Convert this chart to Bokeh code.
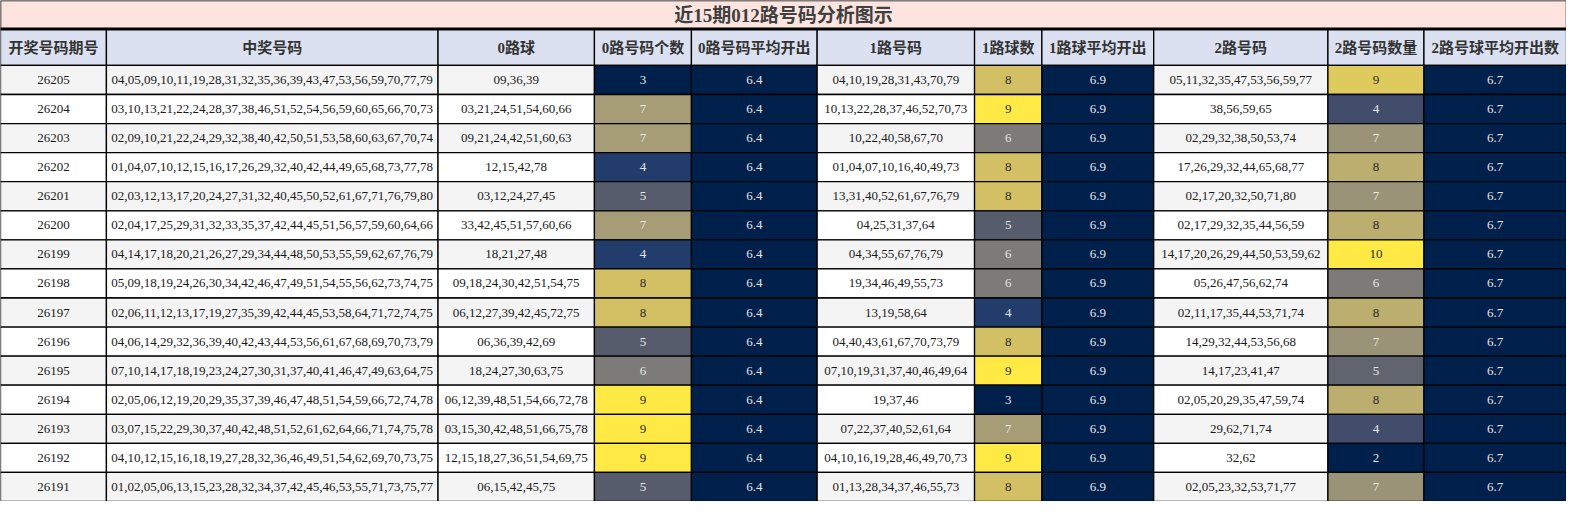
from bokeh.plotting import figure
from bokeh.models import ColumnDataSource, Range1d
from bokeh.palettes import Cividis256
from bokeh.core.properties import value
from bokeh.embed import file_html
from bokeh.resources import INLINE

title = "近15期012路号码分析图示"
headers = ["开奖号码期号", "中奖号码", "0路球", "0路号码个数", "0路号码平均开出", "1路号码",
           "1路球数", "1路球平均开出", "2路号码", "2路号码数量", "2路号球平均开出数"]

periods = ["26205", "26204", "26203", "26202", "26201", "26200", "26199", "26198",
           "26197", "26196", "26195", "26194", "26193", "26192", "26191"]
draws = [
    "04,05,09,10,11,19,28,31,32,35,36,39,43,47,53,56,59,70,77,79",
    "03,10,13,21,22,24,28,37,38,46,51,52,54,56,59,60,65,66,70,73",
    "02,09,10,21,22,24,29,32,38,40,42,50,51,53,58,60,63,67,70,74",
    "01,04,07,10,12,15,16,17,26,29,32,40,42,44,49,65,68,73,77,78",
    "02,03,12,13,17,20,24,27,31,32,40,45,50,52,61,67,71,76,79,80",
    "02,04,17,25,29,31,32,33,35,37,42,44,45,51,56,57,59,60,64,66",
    "04,14,17,18,20,21,26,27,29,34,44,48,50,53,55,59,62,67,76,79",
    "05,09,18,19,24,26,30,34,42,46,47,49,51,54,55,56,62,73,74,75",
    "02,06,11,12,13,17,19,27,35,39,42,44,45,53,58,64,71,72,74,75",
    "04,06,14,29,32,36,39,40,42,43,44,53,56,61,67,68,69,70,73,79",
    "07,10,14,17,18,19,23,24,27,30,31,37,40,41,46,47,49,63,64,75",
    "02,05,06,12,19,20,29,35,37,39,46,47,48,51,54,59,66,72,74,78",
    "03,07,15,22,29,30,37,40,42,48,51,52,61,62,64,66,71,74,75,78",
    "04,10,12,15,16,18,19,27,28,32,36,46,49,51,54,62,69,70,73,75",
    "01,02,05,06,13,15,23,28,32,34,37,42,45,46,53,55,71,73,75,77",
]
road0 = ["09,36,39", "03,21,24,51,54,60,66", "09,21,24,42,51,60,63", "12,15,42,78",
         "03,12,24,27,45", "33,42,45,51,57,60,66", "18,21,27,48", "09,18,24,30,42,51,54,75",
         "06,12,27,39,42,45,72,75", "06,36,39,42,69", "18,24,27,30,63,75",
         "06,12,39,48,51,54,66,72,78", "03,15,30,42,48,51,66,75,78",
         "12,15,18,27,36,51,54,69,75", "06,15,42,45,75"]
road0_count = [3, 7, 7, 4, 5, 7, 4, 8, 8, 5, 6, 9, 9, 9, 5]
road0_avg = [6.4] * 15
road1 = ["04,10,19,28,31,43,70,79", "10,13,22,28,37,46,52,70,73", "10,22,40,58,67,70",
         "01,04,07,10,16,40,49,73", "13,31,40,52,61,67,76,79", "04,25,31,37,64",
         "04,34,55,67,76,79", "19,34,46,49,55,73", "13,19,58,64", "04,40,43,61,67,70,73,79",
         "07,10,19,31,37,40,46,49,64", "19,37,46", "07,22,37,40,52,61,64",
         "04,10,16,19,28,46,49,70,73", "01,13,28,34,37,46,55,73"]
road1_count = [8, 9, 6, 8, 8, 5, 6, 6, 4, 8, 9, 3, 7, 9, 8]
road1_avg = [6.9] * 15
road2 = ["05,11,32,35,47,53,56,59,77", "38,56,59,65", "02,29,32,38,50,53,74",
         "17,26,29,32,44,65,68,77", "02,17,20,32,50,71,80", "02,17,29,32,35,44,56,59",
         "14,17,20,26,29,44,50,53,59,62", "05,26,47,56,62,74", "02,11,17,35,44,53,71,74",
         "14,29,32,44,53,56,68", "14,17,23,41,47", "02,05,20,29,35,47,59,74",
         "29,62,71,74", "32,62", "02,05,23,32,53,71,77"]
road2_count = [9, 4, 7, 8, 7, 8, 10, 6, 8, 7, 5, 8, 4, 2, 7]
road2_avg = [6.7] * 15

columns = [periods, draws, road0, road0_count, road0_avg, road1,
           road1_count, road1_avg, road2, road2_count, road2_avg]
heat = [False, False, False, True, True, False, True, True, False, True, True]

col_w = [107, 335, 158, 98, 127, 159, 68, 113, 176, 97, 144]
W, H = sum(col_w), 517
title_h, head_h, row_h = 29.5, 37.5, 30

SERIF = value('"Liberation Serif", "Noto Sans CJK SC"')
SANS = value('"Liberation Serif", "Noto Sans CJK SC"')


def heat_color(v, lo, hi):
    idx = 0 if hi == lo else int(round((v - lo) / (hi - lo) * 255))
    c = Cividis256[idx]
    r, g, b = int(c[1:3], 16), int(c[3:5], 16), int(c[5:7], 16)
    lum = (0.299 * r + 0.587 * g + 0.114 * b) / 255
    return c, ("#2b2b2b" if lum > 0.64 else "#e6e6e6")


edges = [0]
for w in col_w:
    edges.append(edges[-1] + w)

cell = dict(l=[], r=[], t=[], b=[], fill=[])
txt = dict(x=[], y=[], s=[], c=[])
for j, col in enumerate(columns):
    vals = [v for v in col if not isinstance(v, str)]
    lo, hi = (min(vals), max(vals)) if heat[j] else (0, 0)
    for i, v in enumerate(col):
        top = title_h + head_h + i * row_h
        cell["l"].append(edges[j]); cell["r"].append(edges[j + 1])
        cell["t"].append(top); cell["b"].append(top + row_h)
        if heat[j]:
            fc, tc = heat_color(v, lo, hi)
        else:
            fc, tc = ("#f4f4f4" if i % 2 == 0 else "#ffffff"), "#1a1a1a"
        cell["fill"].append(fc)
        txt["x"].append((edges[j] + edges[j + 1]) / 2)
        txt["y"].append(top + row_h / 2)
        txt["s"].append(str(v))
        txt["c"].append(tc)

p = figure(width=1566, height=501, x_range=Range1d(0, W), y_range=Range1d(H, 0),
           output_backend="svg", toolbar_location=None, min_border=0)
p.axis.visible = False
p.grid.visible = False
p.outline_line_color = None

# title bar
p.quad(left=[0], right=[W], top=[0], bottom=[title_h], fill_color="#fde4df",
       line_color="black", line_width=1.5)
p.text(x=[W / 2], y=[title_h / 2 + 1], text=[title], text_align="center",
       text_baseline="middle", text_font=SANS, text_font_style="bold",
       text_font_size="19px", text_color="#404040")

# header row
hx = [(edges[k] + edges[k + 1]) / 2 for k in range(len(headers))]
p.quad(left=edges[:-1], right=edges[1:], top=[title_h] * len(headers),
       bottom=[title_h + head_h] * len(headers), fill_color="#dbe1f1",
       line_color="black", line_width=1.3)
p.text(x=hx, y=[title_h + head_h / 2 + 1] * len(headers), text=headers,
       text_align="center", text_baseline="middle", text_font=SANS,
       text_font_style="bold", text_font_size="15px", text_color="#333333")

# body cells
p.quad(left="l", right="r", top="t", bottom="b", fill_color="fill",
       line_color="black", line_width=1.3, source=ColumnDataSource(cell))
p.text(x="x", y="y", text="s", text_color="c", text_align="center",
       text_baseline="middle", text_font=SERIF, text_font_size="13px",
       source=ColumnDataSource(txt))

p.segment(x0=[0], y0=[title_h], x1=[W], y1=[title_h], line_color="black", line_width=3)

open("out.html", "w").write(file_html(p, INLINE))
